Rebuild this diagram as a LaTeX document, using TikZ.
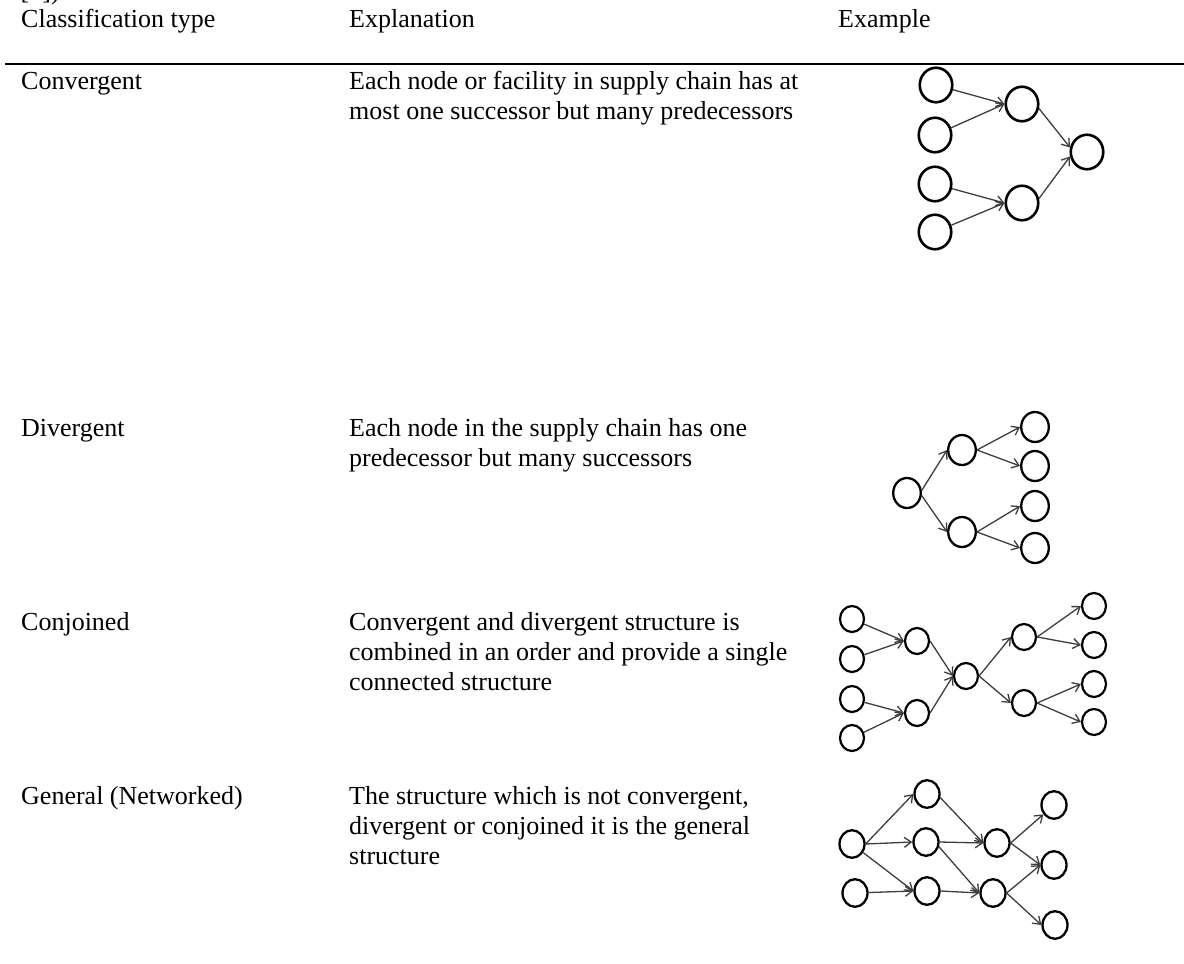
\documentclass[tikz,border=0pt]{standalone}
\usepackage{fontspec}
\setmainfont{Liberation Serif}
\usetikzlibrary{shapes.geometric,arrows.meta}

\begin{document}
\begin{tikzpicture}[x=1pt,y=-1pt,
  txt/.style={anchor=base west, inner sep=0pt, font=\fontsize{26}{30}\selectfont},
  nd/.style={ellipse, draw=black, inner sep=0pt, fill=white},
  ndA/.style={nd, line width=2.6pt, minimum width=32.5pt, minimum height=34.5pt},
  ndB/.style={nd, line width=2.3pt, minimum width=27.6pt, minimum height=30pt},
  ndC/.style={nd, line width=2.2pt, minimum width=24pt, minimum height=26pt},
  ndD/.style={nd, line width=2.3pt, minimum width=25pt, minimum height=27.6pt},
  link/.style={draw=black!76, line width=1.3pt, -{Straight Barb[length=7pt,width=10pt]}}
]
\useasboundingbox (0,0) rectangle (1184,964);

% cut-off line above the table
\node[txt] (cite) at (20.5,-1) {[1])};

% header
\node[txt] (h1) at (21,27) {Classification type};
\node[txt] (h2) at (349,27) {Explanation};
\node[txt] (h3) at (838,27) {Example};
\coordinate (ruleL) at (5,64);
\coordinate (ruleR) at (1184,64);
\draw[line width=2pt] (ruleL) -- (ruleR);

% ---- Convergent ----
\node[txt] (t1) at (21,89) {Convergent};
\node[txt] (e1a) at (349,89) {Each node or facility in supply chain has at};
\node[txt] (e1b) at (349,119) {most one successor but many predecessors};

\node[ndA] (cv1) at (936,85) {};
\node[ndA] (cv2) at (935,135) {};
\node[ndA] (cv3) at (935,184) {};
\node[ndA] (cv4) at (935,232) {};
\node[ndA] (cvm1) at (1022,104) {};
\node[ndA] (cvm2) at (1022,203) {};
\node[ndA] (cvr) at (1087,152) {};
\draw[link] (cv1) -- (cvm1.west);
\draw[link] (cv2) -- (cvm1.west);
\draw[link] (cv3) -- (cvm2.west);
\draw[link] (cv4) -- (cvm2.west);
\draw[link] (cvm1.-15) -- (cvr.165);
\draw[link] (cvm2.15) -- (cvr.195);

% ---- Divergent ----
\node[txt] (t2) at (21,436) {Divergent};
\node[txt] (e2a) at (349,436) {Each node in the supply chain has one};
\node[txt] (e2b) at (349,466) {predecessor but many successors};

\node[ndB] (dv) at (907,493) {};
\node[ndB] (dvt) at (962,450) {};
\node[ndB] (dvb) at (962,532) {};
\node[ndB] (dr1) at (1035,427) {};
\node[ndB] (dr2) at (1035,466) {};
\node[ndB] (dr3) at (1035,506) {};
\node[ndB] (dr4) at (1035,548) {};
\draw[link] (dv.10) -- (dvt.west);
\draw[link] (dv.-10) -- (dvb.west);
\draw[link] (dvt.east) -- (dr1.west);
\draw[link] (dvt.east) -- (dr2.west);
\draw[link] (dvb.east) -- (dr3.west);
\draw[link] (dvb.east) -- (dr4.west);

% ---- Conjoined ----
\node[txt] (t3) at (21,630) {Conjoined};
\node[txt] (e3a) at (349,630) {Convergent and divergent structure is};
\node[txt] (e3b) at (349,660) {combined in an order and provide a single};
\node[txt] (e3c) at (349,690) {connected structure};

\node[ndC] (cj1) at (852,619) {};
\node[ndC] (cj2) at (852,659) {};
\node[ndC] (cj3) at (852,699) {};
\node[ndC] (cj4) at (852,738) {};
\node[ndC] (cjm1) at (917,641) {};
\node[ndC] (cjm2) at (917,713) {};
\node[ndC] (cjc) at (966,676) {};
\node[ndC] (cjr1) at (1024,637) {};
\node[ndC] (cjr2) at (1024,703) {};
\node[ndC] (cjf1) at (1094,606) {};
\node[ndC] (cjf2) at (1094,645) {};
\node[ndC] (cjf3) at (1094,684) {};
\node[ndC] (cjf4) at (1094,722) {};
\draw[link] (cj1) -- (cjm1.west);
\draw[link] (cj2) -- (cjm1.west);
\draw[link] (cj3) -- (cjm2.west);
\draw[link] (cj4) -- (cjm2.west);
\draw[link] (cjm1.east) -- (cjc.west);
\draw[link] (cjm2.east) -- (cjc.west);
\draw[link] (cjc.east) -- (cjr1.west);
\draw[link] (cjc.east) -- (cjr2.west);
\draw[link] (cjr1.east) -- (cjf1.west);
\draw[link] (cjr1.east) -- (cjf2.west);
\draw[link] (cjr2.east) -- (cjf3.west);
\draw[link] (cjr2.east) -- (cjf4.west);

% ---- General (Networked) ----
\node[txt] (t4) at (21,804) {General (Networked)};
\node[txt] (e4a) at (349,804) {The structure which is not convergent,};
\node[txt] (e4b) at (349,834) {divergent or conjoined it is the general};
\node[txt] (e4c) at (349,864) {structure};

\node[ndD] (ga) at (852,844) {};
\node[ndD] (gb) at (855,893) {};
\node[ndD] (gc) at (927,794) {};
\node[ndD] (gd) at (926,842) {};
\node[ndD] (ge) at (927,891) {};
\node[ndD] (gf) at (997,843) {};
\node[ndD] (gg) at (993,893) {};
\node[ndD] (gh) at (1054,805) {};
\node[ndD] (gi) at (1054,865) {};
\node[ndD] (gj) at (1055,925) {};
\draw[link] (ga.east) -- (gc.west);
\draw[link] (ga.east) -- (gd.west);
\draw[link] (ga) -- (ge.west);
\draw[link] (gb) -- (ge.west);
\draw[link] (gc.-15) -- (gf.west);
\draw[link] (gd.east) -- (gf.west);
\draw[link] (gd.-20) -- (gg.west);
\draw[link] (ge.east) -- (gg.west);
\draw[link] (gf.east) -- (gh);
\draw[link] (gf.east) -- (gi.west);
\draw[link] (gg.east) -- (gi.west);
\draw[link] (gg.east) -- (gj.west);
\end{tikzpicture}
\end{document}
